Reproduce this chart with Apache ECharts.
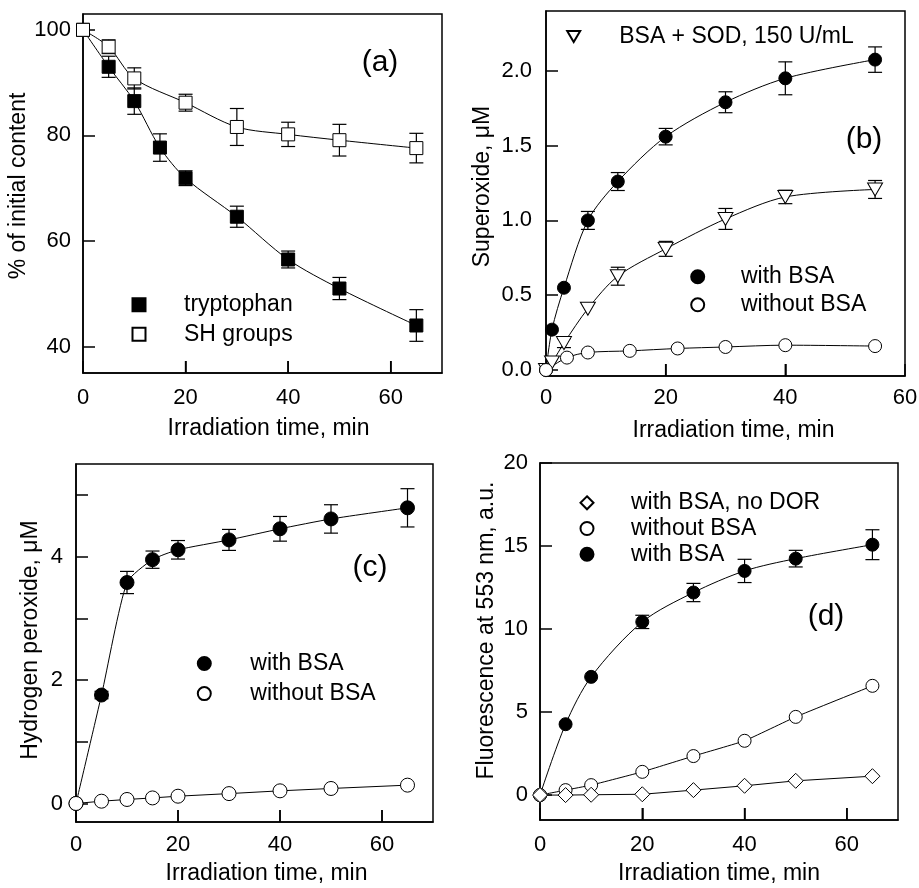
<!DOCTYPE html>
<html><head><meta charset="utf-8">
<script src="https://cdn.jsdelivr.net/npm/echarts@6/dist/echarts.min.js"></script>
<style>html,body{margin:0;padding:0;background:#fff}#c{width:919px;height:888px}</style>
</head><body><div id="c"></div>
<script>
const FONT = '"Liberation Sans", Arial, Helvetica, sans-serif';

// ---------- Panel (a) ----------
const aTrpTime = [0, 5, 10, 15, 20, 30, 40, 50, 65];
const aTrp     = [100, 93.0, 86.5, 77.7, 71.9, 64.6, 56.5, 51.0, 44.0];
const aTrpErr  = [0, 2.0, 2.5, 2.6, 1.4, 2.0, 1.6, 2.1, 3.0];
const aShTime  = [0, 5, 10, 20, 30, 40, 50, 65];
const aSh      = [100, 96.8, 90.8, 86.2, 81.6, 80.2, 79.1, 77.6];
const aShErr   = [0, 1.3, 2.0, 1.6, 3.5, 2.3, 3.0, 2.8];
const aYTicks  = [40, 60, 80, 100];
const aXTicks  = [20, 40, 60];

// ---------- Panel (b) ----------
const bTime     = [0, 1, 3, 7, 12, 20, 30, 40, 55];
const bWith     = [0, 0.27, 0.55, 1.0, 1.26, 1.56, 1.79, 1.95, 2.075];
const bWithErr  = [0, 0, 0, 0.06, 0.06, 0.055, 0.07, 0.11, 0.085];
const bSod      = [0, 0.05, 0.18, 0.41, 0.627, 0.81, 1.01, 1.157, 1.207];
const bSodErr   = [0, 0, 0.03, 0, 0.06, 0.05, 0.07, 0.045, 0.06];
const bNoTime   = [0, 3.5, 7, 14, 22, 30, 40, 55];
const bNo       = [0, 0.083, 0.117, 0.128, 0.144, 0.154, 0.166, 0.16];
const bYTicks   = [0, 0.5, 1.0, 1.5, 2.0];
const bXTicks   = [20, 40];

// ---------- Panel (c) ----------
const cTime     = [0, 5, 10, 15, 20, 30, 40, 50, 65];
const cWith     = [0, 1.757, 3.58, 3.95, 4.11, 4.27, 4.45, 4.61, 4.79];
const cWithErr  = [0, 0.06, 0.18, 0.14, 0.15, 0.17, 0.2, 0.23, 0.31];
const cNo       = [0, 0.037, 0.065, 0.09, 0.118, 0.16, 0.205, 0.243, 0.297];
const cYTicks   = [0, 1, 2, 3, 4, 5];
const cYLabels  = [0, 2, 4];
const cXTicks   = [20, 40, 60];

// ---------- Panel (d) ----------
const dTime     = [0, 5, 10, 20, 30, 40, 50, 65];
const dWith     = [0, 4.27, 7.12, 10.43, 12.2, 13.5, 14.24, 15.08];
const dWithErr  = [0, 0, 0, 0.4, 0.55, 0.7, 0.5, 0.9];
const dNo       = [0, 0.3, 0.6, 1.4, 2.35, 3.27, 4.71, 6.58];
const dNoDor    = [0, 0, 0.02, 0.05, 0.3, 0.56, 0.86, 1.14];
const dYTicks   = [0, 5, 10, 15, 20];
const dXTicks   = [20, 40, 60];

const xTickStep = 20;   // time axis labels: 0, 20, 40, 60

// ---------- helpers ----------
function pts(xs, ys) { return xs.map((x, i) => [x, ys[i]]); }
function errs(xs, ys, es) {
  const out = [];
  xs.forEach((x, i) => { if (es[i] > 0) out.push([x, ys[i] - es[i], ys[i] + es[i]]); });
  return out;
}
const black = '#000';
const TICK_LEN = 12;

function renderErr(params, api) {
  const x = api.value(0), lo = api.value(1), hi = api.value(2);
  const p1 = api.coord([x, hi]), p2 = api.coord([x, lo]);
  const w = 7;
  const st = { stroke: black, lineWidth: 1.2 };
  return { type: 'group', children: [
    { type: 'line', shape: { x1: p1[0], y1: p1[1], x2: p2[0], y2: p2[1] }, style: st },
    { type: 'line', shape: { x1: p1[0] - w, y1: p1[1], x2: p1[0] + w, y2: p1[1] }, style: st },
    { type: 'line', shape: { x1: p2[0] - w, y1: p2[1], x2: p2[0] + w, y2: p2[1] }, style: st }
  ]};
}
// inward tick marks on the bottom (time) axis, positioned by the axis scale
function renderXTick(params, api) {
  const cs = params.coordSys;
  const x = api.coord([api.value(0), api.value(1)])[0];
  const yb = cs.y + cs.height;
  return { type: 'line', shape: { x1: x, y1: yb, x2: x, y2: yb - TICK_LEN },
           style: { stroke: black, lineWidth: 1.5 } };
}

function xAx(gi, max, margin, nameGap, namePad) {
  return {
    type: 'value', gridIndex: gi, min: 0, max: max, interval: xTickStep, position: 'bottom',
    axisLine: { show: true, onZero: false, lineStyle: { color: black, width: 1.5 } }, splitLine: { show: false },
    axisTick: { show: true, inside: true, length: TICK_LEN, lineStyle: { color: black, width: 1.5 } },
    axisLabel: { margin: margin, fontSize: 22, fontFamily: FONT, color: black, showMaxLabel: max % xTickStep === 0 },
    name: 'Irradiation time, min', nameLocation: 'middle', nameGap: nameGap,
    nameTextStyle: { fontSize: 23, fontFamily: FONT, color: black, padding: [0, 0, 0, namePad] }
  };
}
function yAx(gi, min, max, ticks, labels, margin, name, nameGap, namePad, fmt) {
  return {
    type: 'value', gridIndex: gi, min: min, max: max, position: 'left',
    axisLine: { show: true, onZero: false, lineStyle: { color: black, width: 1.5 } }, splitLine: { show: false },
    axisTick: { show: true, inside: true, length: TICK_LEN, lineStyle: { color: black, width: 1.5 }, customValues: ticks },
    axisLabel: { customValues: labels, margin: margin, fontSize: 22, fontFamily: FONT, color: black,
                 formatter: fmt || (v => String(v)) },
    name: name, nameLocation: 'middle', nameGap: nameGap, nameRotate: 90,
    nameTextStyle: { fontSize: 23, fontFamily: FONT, color: black, padding: [0, 0, 0, namePad] }
  };
}
function gridBox(left, top, w, h) {
  return { left: left, top: top, width: w, height: h, show: true, borderColor: black, borderWidth: 1.5,
           backgroundColor: 'transparent', containLabel: false, outerBoundsMode: 'none' };
}
function fit(gi, data, smooth) {
  return { type: 'line', xAxisIndex: gi, yAxisIndex: gi, data: data, symbol: 'none', silent: true,
           smooth: smooth, lineStyle: { color: black, width: 1 }, z: 2 };
}
function marks(gi, name, data, symbol, size, filled, rotate) {
  return { type: 'scatter', name: name, xAxisIndex: gi, yAxisIndex: gi, data: data,
           symbol: symbol, symbolSize: size, symbolRotate: rotate || 0,
           itemStyle: { color: filled ? black : '#fff', borderColor: black, borderWidth: 1, opacity: 1 }, z: 3 };
}
function errSeries(gi, data) {
  return { type: 'custom', xAxisIndex: gi, yAxisIndex: gi, data: data, renderItem: renderErr, silent: true, z: 1 };
}
function tickSeries(gi, ticks, yRef) {
  return { type: 'custom', xAxisIndex: gi, yAxisIndex: gi, data: ticks.map(v => [v, yRef]),
           renderItem: renderXTick, silent: true, clip: false, z: 5 };
}
function legend(left, top, gap, pad, names) {
  return { left: left, top: top, orient: 'vertical', itemWidth: 13, itemHeight: 13, itemGap: gap, padding: 0,
           selectedMode: false, data: names,
           textStyle: { fontSize: 23, fontFamily: FONT, color: black, padding: [0, 0, 0, pad] } };
}
const downTriangle = 'path://M0,0L14,0L7,12Z';

const option = {
  animation: false,
  backgroundColor: '#fff',
  grid: [
    gridBox(83, 14, 359, 359),
    gridBox(546, 11, 359, 365),
    gridBox(76, 464, 357, 358),
    gridBox(540, 463, 358, 357)
  ],
  xAxis: [
    xAx(0, 70, 14, 44, 12),
    xAx(1, 60, 11, 43, 16),
    xAx(2, 70, 12, 40, 24),
    xAx(3, 70, 14, 42, 0)
  ],
  yAxis: [
    yAx(0, 35, 103, aYTicks, aYTicks, 12, '% of initial content', 49, 15),
    yAx(1, -0.04, 2.4, bYTicks, bYTicks, 14, 'Superoxide, \u03bcM', 52, 14, v => Number(v).toFixed(1)),
    yAx(2, -0.3, 5.5, cYTicks, cYLabels, 13, 'Hydrogen peroxide, \u03bcM', 33.5, 6),
    yAx(3, -1.5, 20, dYTicks, dYTicks, 12, 'Fluorescence at 553 nm, a.u.', 42, 22)
  ],
  legend: [
    legend(131.5, 293.3, 6.5, 33.5, ['tryptophan', 'SH groups']),
    legend(566.2, 25, 5, 34, [{ name: 'BSA + SOD, 150 U/mL', icon: downTriangle }]),
    legend(690.2, 265.3, 5, 31.8, ['with BSA', 'without BSA']),
    legend(196.8, 652, 7.1, 34.5, ['with BSA', 'without BSA']),
    legend(579.5, 491.3, 2.7, 32.5, ['with BSA, no DOR', 'without BSA', 'with BSA'])
  ],
  graphic: [
    { type: 'text', x: 380, y: 63, style: { text: '(a)', fontSize: 30, fontFamily: FONT, fill: black, align: 'center', verticalAlign: 'middle' } },
    { type: 'text', x: 864, y: 140, style: { text: '(b)', fontSize: 30, fontFamily: FONT, fill: black, align: 'center', verticalAlign: 'middle' } },
    { type: 'text', x: 370, y: 568, style: { text: '(c)', fontSize: 30, fontFamily: FONT, fill: black, align: 'center', verticalAlign: 'middle' } },
    { type: 'text', x: 826, y: 617, style: { text: '(d)', fontSize: 30, fontFamily: FONT, fill: black, align: 'center', verticalAlign: 'middle' } }
  ],
  series: [
    // (a)
    tickSeries(0, aXTicks, 40),
    errSeries(0, errs(aTrpTime, aTrp, aTrpErr)),
    errSeries(0, errs(aShTime, aSh, aShErr)),
    fit(0, pts(aTrpTime, aTrp), 0.3),
    fit(0, pts(aShTime, aSh), 0.3),
    marks(0, 'tryptophan', pts(aTrpTime, aTrp), 'rect', 13, true),
    marks(0, 'SH groups', pts(aShTime, aSh), 'rect', 13, false),
    // (b)
    tickSeries(1, bXTicks, 0),
    errSeries(1, errs(bTime, bWith, bWithErr)),
    errSeries(1, errs(bTime, bSod, bSodErr)),
    fit(1, pts(bTime, bWith), 0.3),
    fit(1, pts(bTime, bSod), 0.3),
    fit(1, pts(bNoTime, bNo), 0.3),
    marks(1, 'with BSA', pts(bTime, bWith), 'circle', 13, true),
    marks(1, 'BSA + SOD, 150 U/mL', pts(bTime, bSod), 'triangle', [15, 13], false, 180),
    marks(1, 'without BSA', pts(bNoTime, bNo), 'circle', 13, false),
    // (c)
    tickSeries(2, cXTicks, 0),
    errSeries(2, errs(cTime, cWith, cWithErr)),
    fit(2, pts(cTime, cWith), 0.2),
    fit(2, pts(cTime, cNo), 0),
    marks(2, 'with BSA', pts(cTime, cWith), 'circle', 14, true),
    marks(2, 'without BSA', pts(cTime, cNo), 'circle', 14, false),
    // (d)
    tickSeries(3, dXTicks, 0),
    errSeries(3, errs(dTime, dWith, dWithErr)),
    fit(3, pts(dTime, dWith), 0.3),
    fit(3, pts(dTime, dNo), 0.1),
    fit(3, pts(dTime, dNoDor), 0),
    marks(3, 'with BSA', pts(dTime, dWith), 'circle', 13, true),
    marks(3, 'without BSA', pts(dTime, dNo), 'circle', 13, false),
    marks(3, 'with BSA, no DOR', pts(dTime, dNoDor), 'diamond', 15, false)
  ]
};

const chart = echarts.init(document.getElementById('c'), null, { renderer: 'canvas' });
chart.setOption(option);
</script>
</body></html>
